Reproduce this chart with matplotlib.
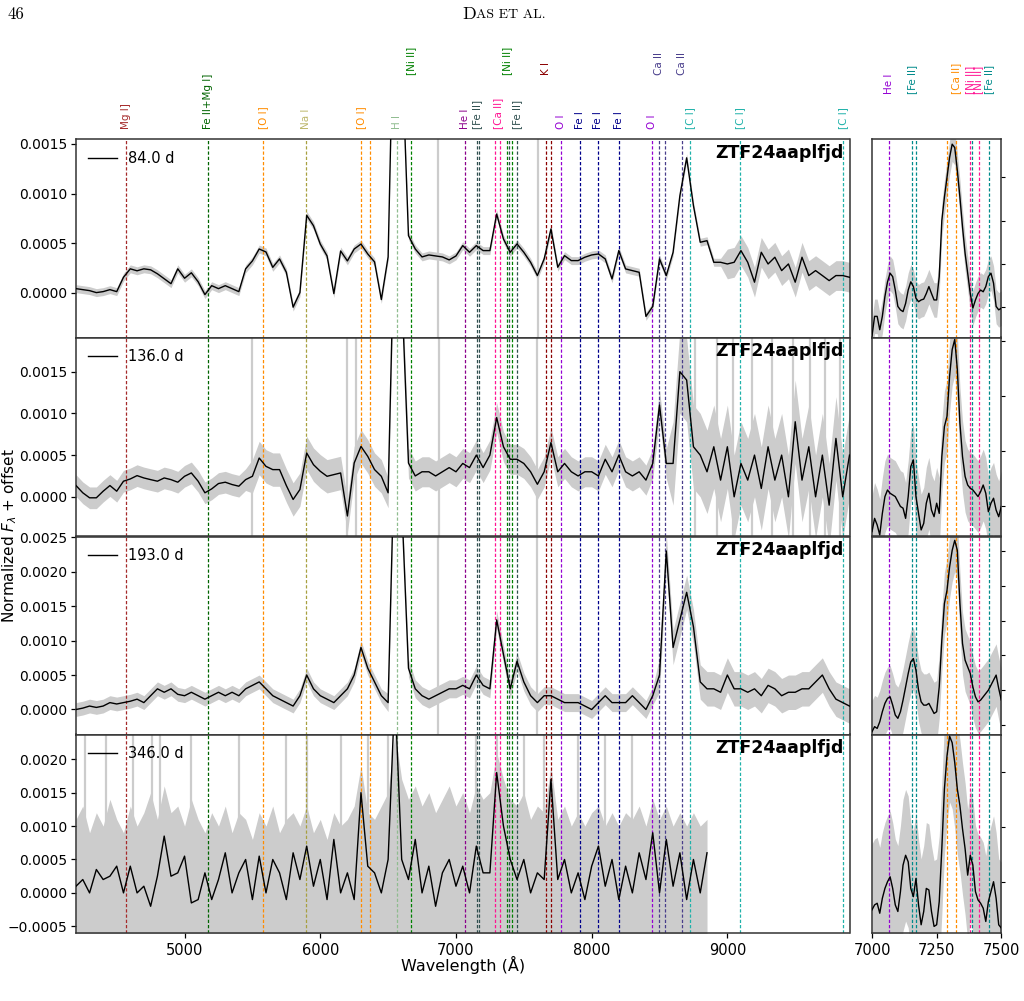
import numpy as np
import matplotlib
matplotlib.use('Agg')
from matplotlib import pyplot as plt
from matplotlib import transforms
from matplotlib.ticker import MultipleLocator, FuncFormatter

####################
# spectra of ZTF24aaplfjd
####################

wl = np.arange(4200, 9901, 50)
phases = [84.0, 136.0, 193.0, 346.0]

flux_84 = [
    0.00004, 0.00003, 0.00002, 0.00000, 0.00001, 0.00003, 0.00001, 0.000155, 0.00024, 0.00022,
    0.00024, 0.00023, 0.00019, 0.00014, 0.00009, 0.00024, 0.000145, 0.0002, 0.00011, -0.00002,
    0.00007, 0.00004, 0.00007, 0.00004, 0.00001, 0.00024, 0.00032, 0.00044, 0.00041, 0.000255,
    0.00034, 0.000205, -0.000147, 0.0, 0.00078, 0.000675, 0.00049, 0.00037, -0.00001, 0.00042,
    0.00032, 0.00044, 0.00049, 0.00039, 0.00031, -0.00007, 0.00036, 0.0035, 0.0025, 0.000575,
    0.00044, 0.00036, 0.00038, 0.00037, 0.00036, 0.00033, 0.00037, 0.000474, 0.000407, 0.000474,
    0.000424, 0.000424, 0.000793, 0.000541, 0.000407, 0.000491, 0.000407, 0.000306, 0.000172, 0.00034,
    0.000642, 0.000256, 0.000373, 0.000323, 0.000323, 0.000357, 0.00038, 0.00039, 0.00034, 0.000138,
    0.000424, 0.000239, 0.000222, 0.000205, -0.00024, -0.00014, 0.00034, 0.000172, 0.000407, 0.000978,
    0.00136, 0.000877, 0.000508, 0.000524, 0.000306, 0.000306, 0.000289, 0.000306, 0.000424, 0.000306,
    0.000105, 0.000407, 0.000289, 0.000357, 0.000222, 0.000289, 0.000105, 0.000357, 0.000172, 0.000222,
    0.000172, 0.000121, 0.000172, 0.000172, 0.000155]

flux_136 = [
    0.000135, 0.000048, -0.000012, -0.000012, 0.000067, 0.000135, 0.000067, 0.000187, 0.000214, 0.000254,
    0.000226, 0.000206, 0.000187, 0.000226, 0.000206, 0.000175, 0.000246, 0.000286, 0.000187, 0.000048,
    0.000095, 0.000159, 0.000175, 0.000147, 0.000127, 0.000206, 0.000246, 0.000465, 0.000365, 0.000326,
    0.000326, 0.000135, -0.000032, 0.000087, 0.000525, 0.000385, 0.000306, 0.000246, 0.000266, 0.000286,
    -0.00023, 0.000405, 0.000604, 0.000485, 0.000326, 0.000246, 0.000048, 0.0035, 0.0025, 0.000405,
    0.00025, 0.0003, 0.0003, 0.00025, 0.0003, 0.00035, 0.0003, 0.0004, 0.00035, 0.0005,
    0.00035, 0.0005, 0.00095, 0.0006, 0.00045, 0.00045, 0.0004, 0.0003, 0.00015, 0.0003,
    0.00065, 0.0003, 0.0004, 0.0003, 0.00025, 0.0003, 0.0003, 0.00025, 0.00045, 0.0003,
    0.0005, 0.0003, 0.00025, 0.0003, 0.0002, 0.0004, 0.0011, 0.0004, 0.0004, 0.0015,
    0.0014, 0.0006, 0.0005, 0.0003, 0.0006, 0.0002, 0.0006, 0.0000, 0.0004, 0.0002,
    0.0005, 0.0001, 0.0006, 0.0002, 0.0005, 0.0000, 0.0009, 0.0002, 0.0006, 0.0000,
    0.0005, -0.0001, 0.0007, 0.0000, 0.0005]

flux_193 = [
    0.0000, 0.00002, 0.00005, 0.00003, 0.00005, 0.0001, 0.00008, 0.0001, 0.00012, 0.00015,
    0.0001, 0.0002, 0.0003, 0.00025, 0.0003, 0.00022, 0.0002, 0.00025, 0.0002, 0.00015,
    0.0002, 0.00025, 0.0002, 0.00025, 0.0002, 0.0003, 0.00035, 0.0004, 0.0003, 0.0002,
    0.00015, 0.0001, 0.00005, 0.0002, 0.0005, 0.0003, 0.0002, 0.00015, 0.0001, 0.0002,
    0.0003, 0.0005, 0.0009, 0.0006, 0.0004, 0.0002, 0.0001, 0.004, 0.003, 0.0006,
    0.0003, 0.0002, 0.00015, 0.0002, 0.00025, 0.0003, 0.0003, 0.00035, 0.0003, 0.0005,
    0.00035, 0.0003, 0.0013, 0.0008, 0.0003, 0.0007, 0.0004, 0.0002, 0.0001, 0.0002,
    0.0002, 0.00015, 0.0001, 0.0001, 0.0001, 0.00005, 0.0000, 0.0001, 0.0002, 0.0001,
    0.0001, 0.0001, 0.0002, 0.0001, 0.0000, 0.0002, 0.0005, 0.0023, 0.0009, 0.0013,
    0.0017, 0.0012, 0.0004, 0.0003, 0.0003, 0.00025, 0.0005, 0.0003, 0.0003, 0.00025,
    0.0003, 0.0002, 0.00035, 0.0003, 0.0002, 0.00025, 0.00025, 0.0003, 0.0003, 0.0004,
    0.0005, 0.0003, 0.00015, 0.0001, 0.00005]

nan = np.nan
flux_346 = [
    0.0001, 0.0002, 0.0000, 0.00035, 0.0002, 0.00025, 0.0004, 0.0000, 0.0004, 0.0000,
    0.0001, -0.0002, 0.00025, 0.00085, 0.00025, 0.0003, 0.00055, -0.00015, -0.0001, 0.0003,
    -0.0001, 0.0002, 0.0006, 0.0000, 0.0003, 0.0005, -0.0001, 0.00055, 0.0000, 0.0005,
    0.0003, -0.0001, 0.0006, 0.0002, 0.0007, 0.0001, 0.0005, -0.0001, 0.0008, 0.0000,
    0.0003, -0.0001, 0.0015, 0.0004, 0.0003, 0.0000, 0.0005, 0.0030, 0.0005, 0.0002,
    0.0008, 0.0000, 0.0004, -0.0002, 0.0003, 0.0005, 0.0001, 0.0004, 0.0000, 0.0007,
    0.0003, 0.0003, 0.0018, 0.0010, 0.0005, 0.0002, 0.0005, 0.0000, 0.0003, 0.0002,
    0.0017, 0.0002, 0.0005, 0.0000, 0.0003, -0.0001, 0.0004, 0.0007, 0.0001, 0.0005,
    -0.0001, 0.0004, 0.0000, 0.0006, 0.0002, 0.0009, 0.0000, 0.0008, 0.0001, 0.0006,
    -0.0001, 0.0005, 0.0000, 0.0006, nan, nan, nan, nan, nan, nan,
    nan, nan, nan, nan, nan, nan, nan, nan, nan, nan,
    nan, nan, nan, nan, nan]

# upper edge of the raw (grey) spectrum of the last epoch
raw_hi_346 = [
    0.0011, 0.0013, 0.0009, 0.0012, 0.0010, 0.0014, 0.0011, 0.0009, 0.0013, 0.0010,
    0.0012, 0.0015, 0.0011, 0.0016, 0.0012, 0.0013, 0.0010, 0.0014, 0.0011, 0.0009,
    0.0012, 0.0010, 0.0013, 0.0009, 0.0012, 0.0011, 0.0008, 0.0012, 0.0010, 0.0013,
    0.0009, 0.0011, 0.0012, 0.0010, 0.0013, 0.0009, 0.0011, 0.0008, 0.0012, 0.0010,
    0.0011, 0.0013, 0.0019, 0.0012, 0.0011, 0.0013, 0.0015, 0.0024, 0.0017, 0.0014,
    0.0016, 0.0013, 0.0015, 0.0012, 0.0014, 0.0016, 0.0013, 0.0015, 0.0012, 0.0016,
    0.0014, 0.0015, 0.0021, 0.0017, 0.0014, 0.0013, 0.0015, 0.0011, 0.0013, 0.0012,
    0.0019, 0.0011, 0.0013, 0.0010, 0.0012, 0.0010, 0.0012, 0.0013, 0.0010, 0.0012,
    0.0010, 0.0012, 0.0011, 0.0013, 0.0010, 0.0014, 0.0011, 0.0013, 0.0010, 0.0012,
    0.0010, 0.0012, 0.0010, 0.0011, nan, nan, nan, nan, nan, nan,
    nan, nan, nan, nan, nan, nan, nan, nan, nan, nan,
    nan, nan, nan, nan, nan]
raw_lo_346 = [(4200, 8850, -0.0007)]

# scatter of the raw (grey) spectrum around the smoothed one: (start, end, half width)
noise_84 = [(4200, 9000, 4e-5), (9000, 9900, 1.5e-4)]
noise_136 = [(4200, 5500, 1.3e-4), (5500, 6500, 2e-4), (6500, 8600, 1.8e-4), (8600, 9900, 5e-4)]
noise_193 = [(4200, 6500, 1e-4), (6500, 8500, 1.3e-4), (8500, 9900, 2.5e-4)]

# single bad pixels / tall spikes in the raw spectrum
spikes_84 = [6870, 7605]
spikes_136 = [5495, 6195, 6263, 6878, 7600, 8760, 8920, 9040, 9180, 9330, 9480, 9610, 9720, 9830]
spikes_193 = [6870, 7600]
spikes_346 = [4270, 4420, 4620, 4760, 4820, 5050, 5400, 5750, 5900, 6150, 6350,
              6500, 7150, 7300, 7500, 7650, 7900, 8100, 8300]

ylims = [(-0.000453, 0.00155), (-0.00047, 0.00191), (-0.00037, 0.00251), (-0.0006, 0.00237)]

# zoom on the [Ca II] region
wl_zoom = np.arange(7000, 7501, 10)

zoom_84 = [
    0.000332, 0.000378, 0.000378, 0.000347, 0.000378, 0.000424, 0.000458, 0.000478, 0.00047, 0.000439,
    0.000401, 0.000393, 0.000389, 0.000408, 0.000439, 0.000458, 0.000447, 0.00042, 0.000412, 0.000416,
    0.000418, 0.000431, 0.000447, 0.000431, 0.000416, 0.000416, 0.00047, 0.0006, 0.000654, 0.0007,
    0.000746, 0.000777, 0.000769, 0.000716, 0.000654, 0.000585, 0.000524, 0.000478, 0.000431, 0.000397,
    0.000416, 0.000431, 0.000439, 0.000435, 0.000447, 0.00047, 0.000478, 0.000455, 0.000401, 0.000393,
    0.000397]

zoom_136 = [
    0.000307, 0.000355, 0.000331, 0.000295, 0.000373, 0.000434, 0.000458, 0.000446, 0.00044, 0.000434,
    0.000416, 0.000398, 0.000392, 0.000355, 0.000434, 0.000543, 0.000567, 0.000434, 0.000373, 0.000313,
    0.000337, 0.00041, 0.000446, 0.000385, 0.000361, 0.00041, 0.000373, 0.000579, 0.000688, 0.000725,
    0.00087, 0.000967, 0.001004, 0.000895, 0.0007, 0.000579, 0.000507, 0.000476, 0.000464, 0.000458,
    0.000446, 0.000434, 0.000452, 0.000476, 0.000446, 0.000379, 0.00041, 0.000428, 0.000385, 0.000361,
    0.000398]

zoom_193 = [
    0.00016, 0.000189, 0.000179, 0.000217, 0.000275, 0.000323, 0.000352, 0.000361, 0.000313, 0.000256,
    0.000237, 0.000275, 0.000342, 0.000418, 0.000495, 0.000562, 0.000581, 0.000514, 0.000399, 0.000332,
    0.000313, 0.000313, 0.000323, 0.000294, 0.000265, 0.000275, 0.000418, 0.000687, 0.000898, 0.000974,
    0.001108, 0.001204, 0.001262, 0.001204, 0.000898, 0.000668, 0.000572, 0.000533, 0.000495, 0.000418,
    0.000361, 0.000332, 0.000342, 0.000361, 0.00038, 0.000399, 0.000428, 0.000457, 0.000486, 0.000409,
    0.000342]

zoom_346 = [
    0.000744, 0.000789, 0.000804, 0.000713, 0.000849, 0.000939, 0.001, 0.001045, 0.000939, 0.000789,
    0.000729, 0.00091, 0.001151, 0.001241, 0.001181, 0.000939, 0.000864, 0.00103, 0.000789, 0.000608,
    0.000729, 0.000939, 0.000925, 0.000729, 0.000593, 0.000608, 0.000819, 0.001301, 0.001844, 0.002146,
    0.002326, 0.002266, 0.002085, 0.001844, 0.001693, 0.001482, 0.001301, 0.00106, 0.001241, 0.001151,
    0.00091, 0.000834, 0.000804, 0.000759, 0.000638, 0.000819, 0.00091, 0.001, 0.000849, 0.000608,
    0.000578]

zoom_noise = [4e-5, 1.3e-4, 1.8e-4, 6e-4]
zoom_ylims = [(0.000329, 0.000789), (0.000291, 0.001011), (0.000141, 0.001284), (0.000533, 0.002341)]
zoom_ticks = [0.0001, 0.0002, 0.0002, 0.0005]

# line identifications
line_wl = [4571, 5170, 5577, 5893, 6300, 6364, 6563, 6667, 7065, 7155, 7172,
           7291, 7324, 7378, 7388, 7412, 7453, 7665, 7699, 7774, 7912, 8047, 8204,
           8446, 8498, 8542, 8662, 8727, 9095, 9850]
line_col = ['brown', 'darkgreen', 'darkorange', '#a8a040', 'darkorange', 'darkorange',
            'darkseagreen', 'green', 'darkmagenta', 'darkslategray', 'darkslategray',
            'deeppink', 'deeppink', 'green', 'darkslategray', 'green', 'darkslategray',
            'darkred', 'darkred', 'darkviolet', 'darkblue', 'darkblue', 'darkblue',
            'darkviolet', 'darkslateblue', 'darkslateblue', 'darkslateblue',
            'lightseagreen', 'lightseagreen', 'lightseagreen']

label_txt = ['Mg I]', 'Fe II+Mg I]', '[O I]', 'Na I', '[O I]', 'H I', 'He I', '[Fe II]',
             '[Ca II]', '[Fe II]', 'O I', 'Fe I', 'Fe I', 'Fe I', 'O I', '[C I]', '[C I]', '[C I]',
             '[Ni II]', '[Ni II]', 'K I', 'Ca II', 'Ca II']
label_wl = [4571, 5170, 5577, 5893, 6300, 6563, 7065, 7155, 7307, 7453, 7774, 7912, 8047,
            8204, 8446, 8727, 9095, 9850, 6667, 7378, 7665, 8498, 8662]
label_col = ['brown', 'darkgreen', 'darkorange', 'darkkhaki', 'darkorange', 'darkseagreen',
             'darkmagenta', 'darkslategray', 'deeppink', 'darkslategray', 'darkviolet',
             'darkblue', 'darkblue', 'darkblue', 'darkviolet', 'lightseagreen', 'lightseagreen',
             'lightseagreen', 'green', 'green', 'darkred', 'darkslateblue', 'darkslateblue']
label_row = [0] * 18 + [1] * 5

zline_wl = [7065, 7155, 7172, 7291, 7324, 7378, 7388, 7412, 7453]
zline_col = ['darkviolet', 'darkcyan', 'darkcyan', 'darkorange', 'darkorange',
             'deeppink', 'darkcyan', 'deeppink', 'darkcyan']
zlabel_txt = ['He I', '[Fe II]', '[Ca II]', '[Ni II]', '[Ni II]', '[Fe II]']
zlabel_wl = [7065, 7155, 7324, 7378, 7412, 7453]
zlabel_col = ['darkviolet', 'darkcyan', 'darkorange', 'deeppink', 'deeppink', 'darkcyan']


def segment_values(grid, segments):
    out = np.full(len(grid), np.nan)
    for lo, hi, val in segments:
        out[(grid >= lo) & (grid <= hi)] = val
    return out


def fmt(v, pos):
    return ('%.4f' % v).replace('-', '\u2212')


plt.rcParams['font.size'] = 10
plt.rcParams['axes.linewidth'] = 1.1
plt.rcParams['axes.edgecolor'] = '#333333'

fig = plt.figure(figsize=(10.24, 10.01), dpi=100)
W, H = 1024., 1001.

fluxes = [flux_84, flux_136, flux_193, flux_346]
noises = [noise_84, noise_136, noise_193, None]
spikes = [spikes_84, spikes_136, spikes_193, spikes_346]
zooms = [zoom_84, zoom_136, zoom_193, zoom_346]

tops = [139, 337.5, 536.5, 734.5]
ph = 198.5
dash = (0, (2.6, 1.6))
grey = '#cccccc'

for i in range(4):
    bottom = 1 - (tops[i] + ph) / H
    ax = fig.add_axes([76 / W, bottom, 773.5 / W, ph / H])
    axz = fig.add_axes([872 / W, bottom, 129.3 / W, ph / H])

    f = np.array(fluxes[i], dtype=float)
    if noises[i] is not None:
        nw = segment_values(wl, noises[i])
        lo, hi = f - nw, f + nw
    else:
        lo = segment_values(wl, raw_lo_346)
        hi = np.array(raw_hi_346, dtype=float)
    ok = ~np.isnan(lo) & ~np.isnan(hi)
    ax.fill_between(wl[ok], lo[ok], hi[ok], color=grey, lw=0, zorder=1)
    for s in spikes[i]:
        ax.axvline(s, color=grey, lw=1.6, zorder=1)
    for lam, c in zip(line_wl, line_col):
        ax.axvline(lam, color=c, ls=dash, lw=0.9, zorder=2)
    ax.plot(wl, f, color='k', lw=1.0, zorder=3, label='%.1f d' % phases[i])
    ax.legend(loc='upper left', frameon=False, handlelength=2.0, borderaxespad=0.4,
              fontsize=10.5)
    ax.text(0.993, 0.975, 'ZTF24aaplfjd', transform=ax.transAxes, ha='right', va='top',
            fontsize=12.5, fontweight='bold')

    ax.set_xlim(4200, 9900)
    ax.set_ylim(*ylims[i])
    ax.yaxis.set_major_locator(MultipleLocator(0.0005))
    ax.yaxis.set_major_formatter(FuncFormatter(fmt))
    ax.tick_params(axis='y', length=3.5, width=0.9, pad=3)
    if i < 3:
        ax.tick_params(axis='x', bottom=False, labelbottom=False)
    else:
        ax.set_xticks([5000, 6000, 7000, 8000, 9000])
        ax.tick_params(axis='x', length=3.5, width=0.9, labelsize=10.5)

    # zoom panel
    z = np.array(zooms[i])
    axz.fill_between(wl_zoom, z - zoom_noise[i], z + zoom_noise[i], color=grey, lw=0, zorder=1)
    for lam, c in zip(zline_wl, zline_col):
        axz.axvline(lam, color=c, ls=dash, lw=0.9, zorder=2)
    axz.plot(wl_zoom, z, color='k', lw=1.0, zorder=3)
    axz.set_xlim(7000, 7500)
    axz.set_ylim(*zoom_ylims[i])
    axz.yaxis.set_major_locator(MultipleLocator(zoom_ticks[i]))
    axz.tick_params(axis='y', left=False, labelleft=False, right=True, labelright=False,
                    length=3, width=0.8)
    if i < 3:
        axz.tick_params(axis='x', bottom=False, labelbottom=False)
    else:
        axz.set_xticks([7000, 7250, 7500])
        axz.tick_params(axis='x', length=3.5, width=0.9, labelsize=10.5)

    if i == 0:
        trans = transforms.blended_transform_factory(ax.transData, ax.transAxes)
        for txt, lam, c, row in zip(label_txt, label_wl, label_col, label_row):
            yy = 1.05 if row == 0 else 1.322
            ax.text(lam, yy, txt, transform=trans, rotation=90, ha='center', va='bottom',
                    color=c, fontsize=7.5, clip_on=False)
        transz = transforms.blended_transform_factory(axz.transData, axz.transAxes)
        for txt, lam, c in zip(zlabel_txt, zlabel_wl, zlabel_col):
            axz.text(lam, 1.229, txt, transform=transz, rotation=90, ha='center', va='bottom',
                     color=c, fontsize=7.5, clip_on=False)

fig.text(462.8 / W, 1 - 965 / H, 'Wavelength (\u00c5)', ha='center', va='center', fontsize=11.5)
fig.text(10 / W, 1 - 536 / H, 'Normalized $F_\\lambda$ + offset', rotation=90,
         ha='center', va='center', fontsize=11)

# running head of the page
fig.text(7 / W, 1 - 14 / H, '46', family='cmr10', fontsize=12, va='center', ha='left')
fig.text(462 / W, 1 - 14 / H, 'D', family='cmr10', fontsize=13, va='center', ha='left')
fig.text(476 / W, 1 - 14.5 / H, 'AS ET AL.', family='cmr10', fontsize=10, va='center', ha='left')

fig.savefig('out.png', dpi=100)
